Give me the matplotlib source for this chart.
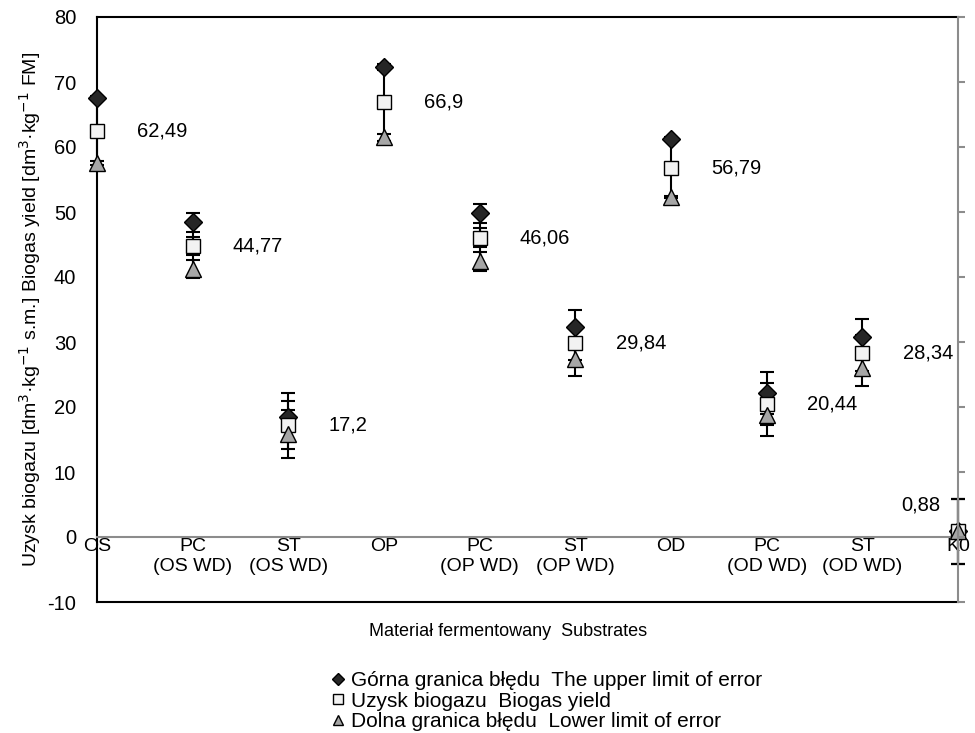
import numpy as np
import matplotlib.pyplot as plt

plt.rcParams['font.family'] = ['Liberation Sans', 'DejaVu Sans']
plt.rcParams['axes.unicode_minus'] = False

# categories on the x axis
categories = ['OS', 'PC\n(OS WD)', 'ST\n(OS WD)', 'OP', 'PC\n(OP WD)',
              'ST\n(OP WD)', 'OD', 'PC\n(OD WD)', 'ST\n(OD WD)', 'K0']

# series
upper = [67.5, 48.4, 18.5, 72.3, 49.8, 32.3, 61.3, 22.2, 30.7, 0.9]
yield_ = [62.49, 44.77, 17.2, 66.9, 46.06, 29.84, 56.79, 20.44, 28.34, 0.88]
lower = [57.5, 41.2, 15.9, 61.5, 42.4, 27.4, 52.3, 18.7, 26.0, 0.85]
err = [0.3, 1.4, 3.7, 0.5, 1.5, 2.6, 0.2, 3.2, 2.8, 5.0]
labels = ['62,49', '44,77', '17,2', '66,9', '46,06', '29,84', '56,79',
          '20,44', '28,34', '0,88']

x = np.arange(len(categories))

fig = plt.figure(figsize=(9.75, 7.33), dpi=100)
ax = fig.add_axes([97/975, 131/733, 861/975, 585/733])

# high-low lines
ax.vlines(x, lower, upper, color='black', lw=1.5, zorder=2, clip_on=False)

ekw = dict(ecolor='black', elinewidth=1.5, capsize=5, capthick=1.5, ls='none', zorder=3)
series = [(upper, 'D', 9, '#262626'), (yield_, 's', 10.5, '#f2f2f2'), (lower, '^', 11.5, '#a6a6a6')]
for vals, mk, size, fc in series:
    eb = ax.errorbar(x, vals, yerr=err, fmt=mk, ms=size, mfc=fc, mec='black', **ekw)
    eb[0].set_clip_on(False)
    for a in eb[1]:
        a.set_clip_on(False)
    for a in eb[2]:
        a.set_clip_on(False)

for i, t in enumerate(labels):
    if i == len(labels) - 1:
        ax.annotate(t, (x[i], yield_[i]), xytext=(-13, 19), textcoords='offset points',
                    ha='right', va='center', fontsize=14.5)
    else:
        ax.annotate(t, (x[i], yield_[i]), xytext=(29, 0), textcoords='offset points',
                    ha='left', va='center', fontsize=14.5)

ax.set_xlim(0, 9)
ax.set_ylim(-10, 80)
ax.set_yticks(np.arange(-10, 81, 10))
ax.set_xticks(x)
ax.set_xticklabels(categories, linespacing=1.0)
ax.tick_params(axis='y', length=0, labelsize=14.5, pad=15)

ax.spines['bottom'].set_position(('data', 0))
ax.spines['bottom'].set_color('#8c8c8c')
ax.spines['bottom'].set_linewidth(1.5)
ax.spines['left'].set_linewidth(1.5)
ax.spines['top'].set_linewidth(1.5)
ax.spines['right'].set_visible(False)
ax.axhline(-10, color='black', lw=1.5, clip_on=False, zorder=5)

ax2 = ax.twinx()
ax2.set_ylim(ax.get_ylim())
ax2.set_yticks(np.arange(-10, 81, 10))
ax2.set_yticklabels([])
ax2.tick_params(axis='y', length=5, width=1.5, color='#8c8c8c', direction='out')
for s in ['left', 'top', 'bottom']:
    ax2.spines[s].set_visible(False)
ax2.spines['right'].set_color('#8c8c8c')
ax2.spines['right'].set_linewidth(1.5)
ax.tick_params(axis='x', length=0, pad=1, labelsize=14)

ax.set_ylabel('Uzysk biogazu [dm$^3$·kg$^{-1}$ s.m.] Biogas yield [dm$^3$·kg$^{-1}$ FM]',
              fontsize=14, labelpad=3)
fig.text(508/975, 1 - 632/733, 'Materiał fermentowany  Substrates', ha='center',
         va='center', fontsize=13)

h1 = plt.Line2D([], [], marker='D', ls='none', ms=6, mfc='#262626', mec='black')
h2 = plt.Line2D([], [], marker='s', ls='none', ms=7, mfc='#f2f2f2', mec='black')
h3 = plt.Line2D([], [], marker='^', ls='none', ms=7, mfc='#a6a6a6', mec='black')
fig.legend([h1, h2, h3],
           ['Górna granica błędu  The upper limit of error',
            'Uzysk biogazu  Biogas yield',
            'Dolna granica błędu  Lower limit of error'],
           loc='upper left', bbox_to_anchor=(331/975, 1 - 671/733), frameon=False,
           fontsize=15, handlelength=0.7, handletextpad=0.25, labelspacing=0.08,
           borderpad=0, borderaxespad=0)

fig.savefig('out.png', dpi=100)
